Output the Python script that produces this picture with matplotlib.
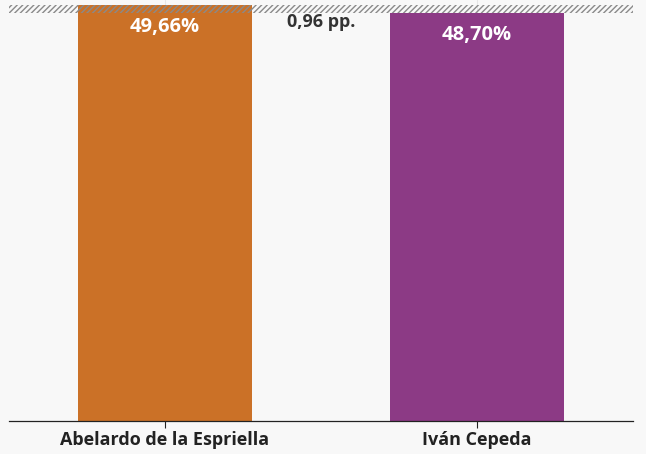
import matplotlib as mpl
mpl.use("Agg")
import matplotlib.pyplot as plt

mpl.rcParams["font.family"] = ["Open Sans", "DejaVu Sans"]
mpl.rcParams["hatch.color"] = "#a0a0a0"
mpl.rcParams["hatch.linewidth"] = 1.0

candidatos = ["Abelardo de la Espriella", "Iván Cepeda"]
porcentajes = [49.66, 48.70]
etiquetas = ["49,66%", "48,70%"]
diferencia = "0,96 pp."
colores = ["#cb7127", "#8c3a85"]

fondo = "#f8f8f8"
fig = plt.figure(figsize=(6.46, 4.54), dpi=100, facecolor=fondo)
ax = fig.add_axes([9 / 646, 33 / 454, 624 / 646, 421 / 454])
ax.set_facecolor(fondo)

x = range(len(candidatos))
for xi in x:
    ax.axvline(xi, color="#e6e6e6", lw=0.8, zorder=0)

ax.bar(x, porcentajes, width=0.555, color=colores, zorder=2)

# franja rayada entre los dos valores
ax.axhspan(min(porcentajes), max(porcentajes), facecolor="none",
           edgecolor="#8a8a8a", hatch="//////", lw=0, zorder=3)

for xi, v, t in zip(x, porcentajes, etiquetas):
    ax.text(xi, v - 1.45, t, ha="center", va="top", color="white",
            fontsize=14.5, fontweight="bold", zorder=4)

ax.text(0.5, max(porcentajes) - 0.9, diferencia, ha="center", va="top",
        color="#333333", fontsize=13, fontweight="bold", zorder=4)

ax.set_xlim(-0.5, 1.5)
ax.set_ylim(0, 50.26)
ax.set_xticks(list(x))
ax.set_xticklabels(candidatos, fontsize=13, fontweight="bold", color="#222222")
ax.tick_params(axis="x", length=5, width=0.8, color="#222222", pad=2)
ax.set_yticks([])
for s in ["top", "left", "right"]:
    ax.spines[s].set_visible(False)
ax.spines["bottom"].set_color("#222222")
ax.spines["bottom"].set_linewidth(0.9)
ax.spines["bottom"].set_zorder(5)

fig.savefig("out.png", dpi=100, facecolor=fondo)
